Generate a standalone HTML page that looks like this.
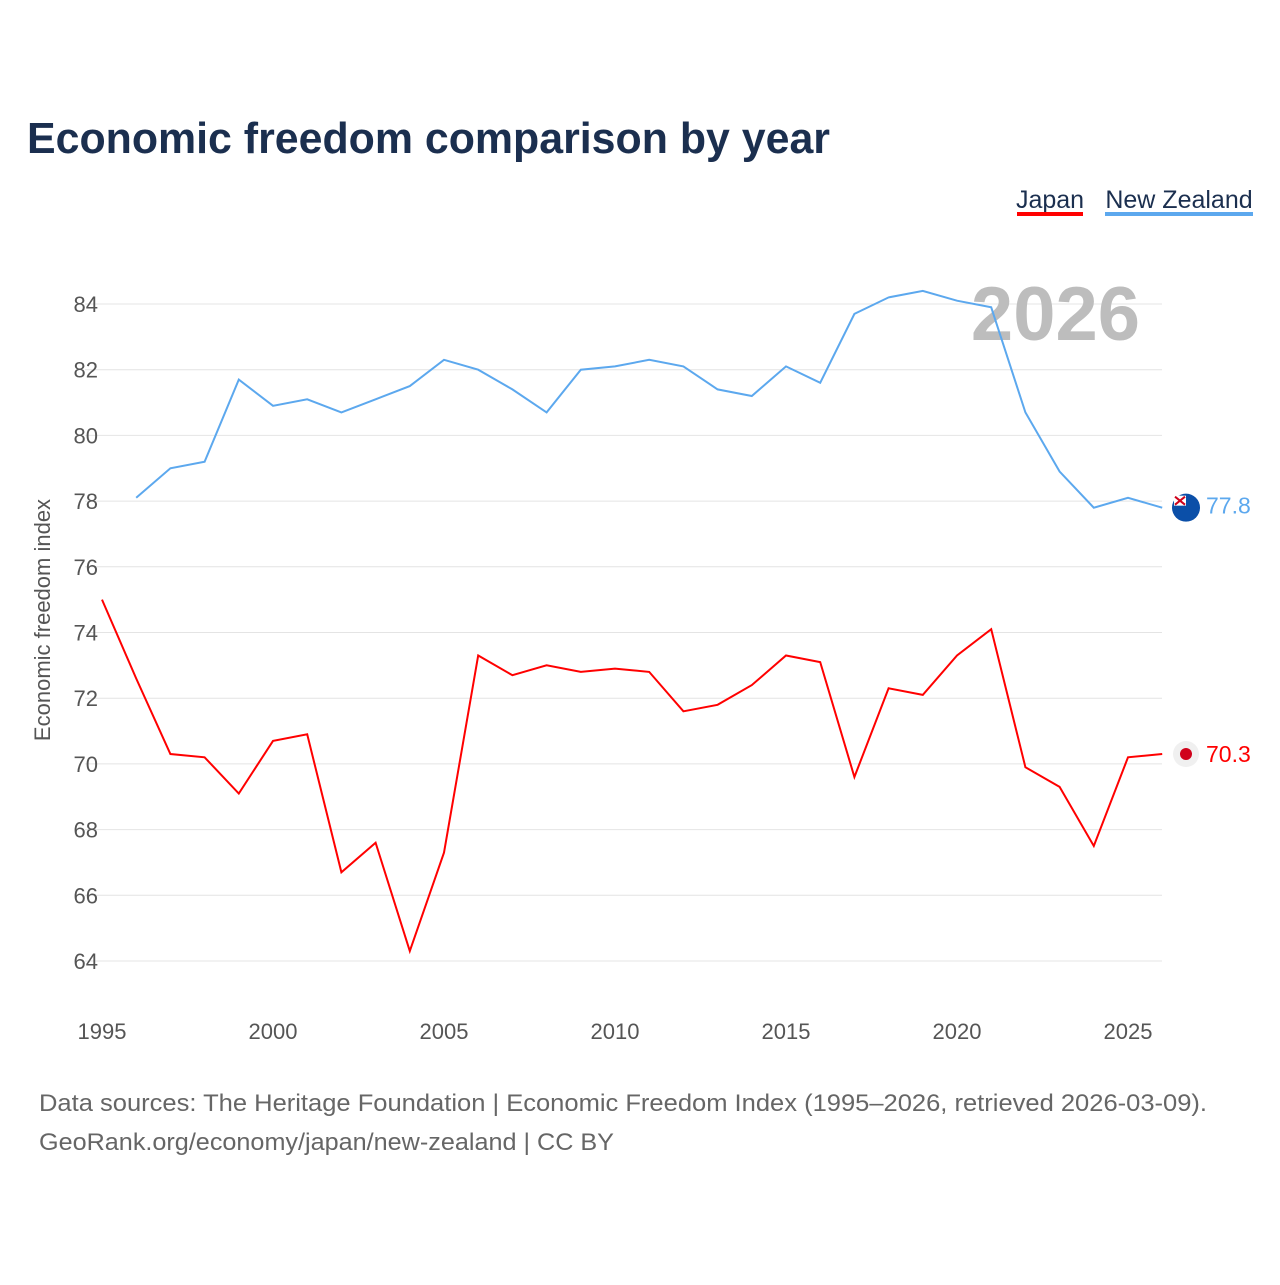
<!DOCTYPE html>
<html><head><meta charset="utf-8">
<style>
body{margin:0;background:#fff;font-family:"Liberation Sans",sans-serif;}
#wrap{position:relative;width:1280px;height:1280px;}
</style></head>
<body>
<div id="wrap">
<svg id="chart" width="1280" height="1280"></svg>
</div>
<script>
const years = [1995,1996,1997,1998,1999,2000,2001,2002,2003,2004,2005,2006,2007,2008,2009,2010,2011,2012,2013,2014,2015,2016,2017,2018,2019,2020,2021,2022,2023,2024,2025,2026];
const japan = [75.0,72.6,70.3,70.2,69.1,70.7,70.9,66.7,67.6,64.3,67.3,73.3,72.7,73.0,72.8,72.9,72.8,71.6,71.8,72.4,73.3,73.1,69.6,72.3,72.1,73.3,74.1,69.9,69.3,67.5,70.2,70.3];
const nzYears = [1996,1997,1998,1999,2000,2001,2002,2003,2004,2005,2006,2007,2008,2009,2010,2011,2012,2013,2014,2015,2016,2017,2018,2019,2020,2021,2022,2023,2024,2025,2026];
const newZealand = [78.1,79.0,79.2,81.7,80.9,81.1,80.7,81.1,81.5,82.3,82.0,81.4,80.7,82.0,82.1,82.3,82.1,81.4,81.2,82.1,81.6,83.7,84.2,84.4,84.1,83.9,80.7,78.9,77.8,78.1,77.8];
const yTicks = [64,66,68,70,72,74,76,78,80,82,84];
const xTicks = [1995,2000,2005,2010,2015,2020,2025];

const NS="http://www.w3.org/2000/svg";
const svg=document.getElementById('chart');
const xs=y=>102+(y-1995)*(1026/30);
const ys=v=>961-(v-64)*(657/20);
function el(t,a,txt){const e=document.createElementNS(NS,t);for(const k in a)e.setAttribute(k,a[k]);if(txt!==undefined)e.textContent=txt;svg.appendChild(e);return e;}

let e;
e=el('text',{x:27,y:153,'font-size':44,'font-weight':'bold',fill:'#1b2f4f',textLength:803,lengthAdjust:'spacingAndGlyphs'},'Economic freedom comparison by year');



e=el('text',{x:1050,y:208,'font-size':25,fill:'#1b2f4f','text-anchor':'middle'},'Japan');


el('rect',{x:1017,y:212,width:66,height:4,fill:'#ff0000'});
e=el('text',{x:1179,y:208,'font-size':25,fill:'#1b2f4f','text-anchor':'middle'},'New Zealand');


el('rect',{x:1105,y:212,width:148,height:4,fill:'#5ca8ee'});

yTicks.forEach(v=>{
  const g=el('line',{x1:85,x2:1162,y1:ys(v),y2:ys(v),stroke:'#e4e4e4','stroke-width':1});
  
  
  const t=el('text',{x:98,y:ys(v)+8,'font-size':22,fill:'#555','text-anchor':'end'},v);
  
  
});
xTicks.forEach(y=>{
  const t=el('text',{x:xs(y),y:1039,'font-size':22,fill:'#555','text-anchor':'middle'},y);
  
  
});
e=el('text',{x:0,y:0,'font-size':22,fill:'#555','text-anchor':'middle',transform:'translate(50,620) rotate(-90)'},'Economic freedom index');



e=el('text',{x:1140,y:340,'font-size':76,'font-weight':'bold',fill:'#bdbdbd','text-anchor':'end'},'2026');



function line(xv,vals,color,name){
  const d=vals.map((v,i)=>(i?'L':'M')+xs(xv[i]).toFixed(1)+','+ys(v).toFixed(1)).join(' ');
  const p=el('path',{d:d,fill:'none',stroke:color,'stroke-width':2});
  
  
}
line(nzYears,newZealand,'#5ca8ee','series-new-zealand');
line(years,japan,'#ff0000','series-japan');

const jl=japan[japan.length-1], nl=newZealand[newZealand.length-1];
e=el('circle',{cx:1186,cy:ys(jl),r:13,fill:'#f0f0f0'});


el('circle',{cx:1186,cy:ys(jl),r:6,fill:'#d0021b'});
e=el('text',{x:1206,y:ys(jl)+8,'font-size':23,fill:'#ff0000'},jl.toFixed(1));


e=el('circle',{cx:1186,cy:ys(nl),r:14,fill:'#0b4fa8'});


el('rect',{x:1174,y:ys(nl)-12,width:12,height:10,fill:'#fff'});
el('path',{d:`M1175,${ys(nl)-11} L1185,${ys(nl)-3} M1185,${ys(nl)-11} L1175,${ys(nl)-3}`,stroke:'#d0021b','stroke-width':2});
e=el('text',{x:1206,y:ys(nl)+6,'font-size':23,fill:'#5ca8ee'},nl.toFixed(1));



e=el('text',{x:39,y:1111,'font-size':24,fill:'#666',textLength:1168,lengthAdjust:'spacingAndGlyphs'},'Data sources: The Heritage Foundation | Economic Freedom Index (1995–2026, retrieved 2026-03-09).');


e=el('text',{x:39,y:1150,'font-size':24,fill:'#666',textLength:575,lengthAdjust:'spacingAndGlyphs'},'GeoRank.org/economy/japan/new-zealand | CC BY');


</script>
</body></html>
